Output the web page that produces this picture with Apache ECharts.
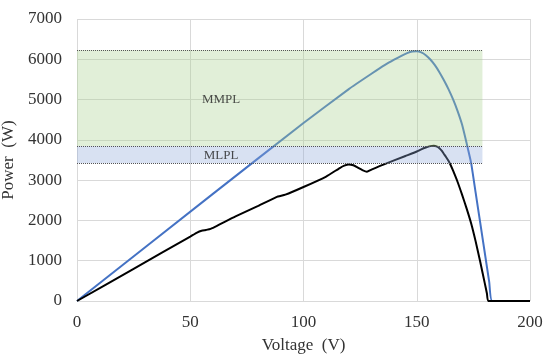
<!DOCTYPE html>
<html>
<head>
<meta charset="utf-8">
<script src="https://cdn.jsdelivr.net/npm/echarts@6/dist/echarts.min.js"></script>
<style>html,body{margin:0;padding:0;background:#fff;}#c{width:550px;height:363px;}</style>
</head>
<body>
<div id="c"></div>
<script>
// Blue curve [Voltage, Power]
var blueV = [0, 60, 100, 120, 130, 136, 140, 143, 146, 148, 150, 152, 154, 156, 158, 160, 162, 164, 166, 168, 170, 172, 174, 176, 178, 180, 182, 183.3, 200];
var blueP = [0, 2660, 4420, 5260, 5640, 5860, 5990, 6080, 6160, 6195, 6200, 6170, 6100, 5995, 5855, 5680, 5480, 5260, 5010, 4720, 4380, 3920, 3430, 2690, 1950, 1210, 470, 0, 0];
// Black curve [Voltage, Power]
var blackV = [0, 25, 50, 53, 55, 57, 59, 62, 70, 80, 88, 92, 100, 110, 116, 118, 120, 122, 124, 126, 128, 130, 135, 145, 150, 152, 154, 156, 157.5, 159, 160, 161, 162, 163, 164, 165, 166, 168, 170, 172, 174, 176, 178, 180, 181, 181.6, 200];
var blackP = [0, 800, 1600, 1700, 1745, 1765, 1790, 1870, 2100, 2360, 2580, 2640, 2830, 3090, 3300, 3360, 3390, 3370, 3310, 3250, 3210, 3260, 3380, 3600, 3710, 3765, 3810, 3845, 3855, 3830, 3790, 3730, 3650, 3570, 3480, 3370, 3240, 2960, 2640, 2300, 1930, 1480, 980, 450, 180, 0, 0];
// Bands
var bandNames = ['MMPL', 'MLPL'];
var bandTop = [6230, 3850];
var bandBottom = [3850, 3420];
var bandStartV = 0;
var bandEndV = 179;
var bandLabelV = 63.6;
var bandLabelP = [5005, 3615];
// Axis ticks
var xTicks = [0, 50, 100, 150, 200];
var yTicks = [0, 1000, 2000, 3000, 4000, 5000, 6000, 7000];

function pairs(a, b) { return a.map(function (v, i) { return [v, b[i]]; }); }

var font = 'Liberation Serif';
var bandColors = ['rgba(169,208,142,0.35)', 'rgba(142,169,219,0.35)'];

var markAreaData = bandNames.map(function (n, i) {
  return [{ coord: [bandStartV, bandTop[i]], itemStyle: { color: bandColors[i] } }, { coord: [bandEndV, bandBottom[i]] }];
});
var levels = [bandTop[0], bandBottom[0], bandBottom[1]];
var markLineData = levels.map(function (l) {
  return [{ coord: [bandStartV, l] }, { coord: [bandEndV, l] }];
});

var chart = echarts.init(document.getElementById('c'), null, { renderer: 'canvas' });
chart.setOption({
  animation: false,
  backgroundColor: '#fff',
  grid: { left: 77, right: 20, top: 19, bottom: 62, containLabel: false, outerBoundsMode: 'none' },
  xAxis: {
    type: 'value', min: xTicks[0], max: xTicks[xTicks.length - 1], interval: 50,
    name: 'Voltage  (V)', nameLocation: 'middle', nameGap: 36,
    nameTextStyle: { fontFamily: font, fontSize: 17, color: '#333' },
    axisLine: { show: false }, axisTick: { show: false },
    axisLabel: { fontFamily: font, fontSize: 17, color: '#333', margin: 13, formatter: function (v) { return String(v); } },
    splitLine: { show: true, lineStyle: { color: '#d9d9d9', width: 1 } }
  },
  yAxis: {
    type: 'value', min: yTicks[0], max: yTicks[yTicks.length - 1], interval: 1000,
    name: 'Power  (W)', nameLocation: 'middle', nameGap: 53, nameRotate: 90,
    nameTextStyle: { fontFamily: font, fontSize: 17, color: '#333' },
    axisLine: { show: false }, axisTick: { show: false },
    axisLabel: { fontFamily: font, fontSize: 17, color: '#333', margin: 15, formatter: function (v) { return String(v); } },
    splitLine: { show: true, lineStyle: { color: '#d9d9d9', width: 1 } }
  },
  series: [
    {
      type: 'line', data: pairs(blueV, blueP), showSymbol: false, smooth: 0.15, z: 3,
      lineStyle: { color: '#4472C4', width: 2 }, itemStyle: { color: '#4472C4' }
    },
    {
      type: 'line', data: pairs(blackV, blackP), showSymbol: false, smooth: 0.15, z: 3,
      lineStyle: { color: '#000', width: 2 }, itemStyle: { color: '#000' }
    },
    {
      type: 'scatter', z: 10, symbolSize: 0,
      data: bandNames.map(function (n, i) { return { value: [bandLabelV, bandLabelP[i]], name: n }; }),
      label: { show: true, position: 'inside', formatter: '{b}', fontFamily: font, fontSize: 13, color: '#222' },
      markArea: { silent: true, z: 10, data: markAreaData },
      markLine: {
        silent: true, z: 11, symbol: ['none', 'none'], label: { show: false },
        lineStyle: { color: '#555', type: [1, 1], width: 1 },
        data: markLineData
      }
    }
  ]
});
</script>
</body>
</html>
